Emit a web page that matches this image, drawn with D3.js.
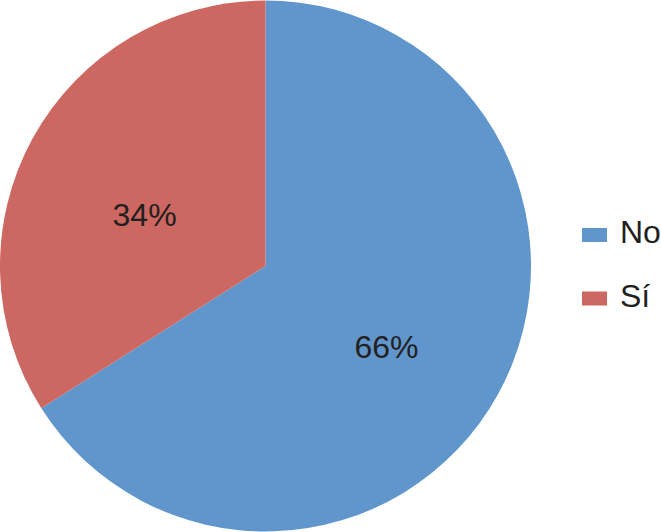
<!DOCTYPE html>
<html>
<head>
<meta charset="utf-8">
<script src="https://cdn.jsdelivr.net/npm/d3@7"></script>
<style>
  html, body { margin: 0; padding: 0; background: #fff; }
  svg text { font-family: "Liberation Sans", Arial, sans-serif; fill: #231f20; }
</style>
</head>
<body>
<div id="chart"></div>
<script>
const categories = ['No', 'Sí'];
const values = [66, 34];
const colors = ['#6096cb', '#cc6761'];

const width = 661, height = 532;
const cx = 265.5, cy = 266, radius = 265.5;

const svg = d3.select('#chart')
    .append('svg')
    .attr('width', width)
    .attr('height', height);

const data = categories.map((c, i) => ({ category: c, value: values[i] }));
const total = d3.sum(values);

const pie = d3.pie().value(d => d.value).sort(null);
const arc = d3.arc().innerRadius(0).outerRadius(radius);
const labelArc = d3.arc().innerRadius(276).outerRadius(0);
const colorScale = d3.scaleOrdinal().domain(categories).range(colors);

const g = svg.append('g').attr('transform', `translate(${cx},${cy})`);

const slices = pie(data);

g.selectAll('path.slice')
    .data(slices)
    .enter()
    .append('path')
    .attr('class', 'slice')
    .attr('d', arc)
    .attr('fill', d => colorScale(d.data.category));

// percent labels, nudged down a bit like the original
g.selectAll('text.pct')
    .data(slices)
    .enter()
    .append('text')
    .attr('class', 'pct')
    .attr('x', d => labelArc.centroid(d)[0])
    .attr('y', d => labelArc.centroid(d)[1] + 15)
    .attr('text-anchor', 'middle')
    .attr('dominant-baseline', 'central')
    .style('font-size', '32px')
    .text(d => Math.round(d.data.value / total * 100) + '%');

// legend
const legend = svg.append('g').attr('transform', 'translate(582,0)');
const legendY = d3.scalePoint().domain(categories).range([235, 298.5]);

legend.selectAll('rect')
    .data(categories)
    .enter()
    .append('rect')
    .attr('x', 0)
    .attr('y', d => legendY(d) - 7)
    .attr('width', 25)
    .attr('height', 14)
    .attr('fill', d => colorScale(d));

legend.selectAll('text')
    .data(categories)
    .enter()
    .append('text')
    .attr('x', 38)
    .attr('y', d => legendY(d) + 8)
    .style('font-size', '32px')
    .text(d => d);
</script>
</body>
</html>
